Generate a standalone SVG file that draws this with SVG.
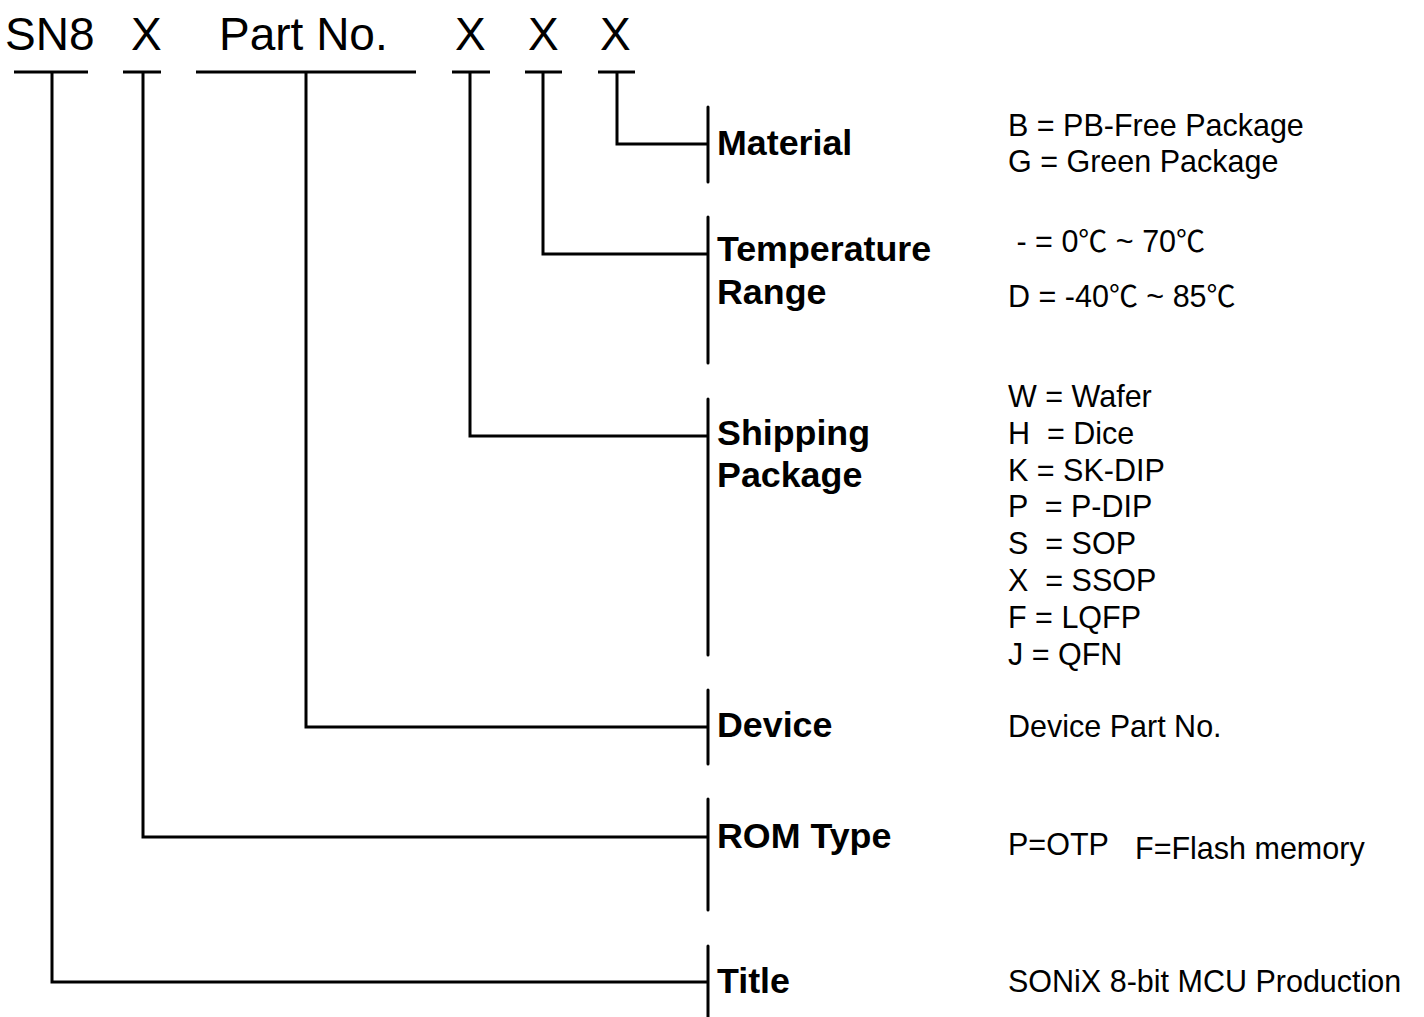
<svg xmlns="http://www.w3.org/2000/svg" width="1424" height="1017" viewBox="0 0 1424 1017">
<style>
  text { font-family: "Liberation Sans", Arial, "Noto Sans CJK SC", sans-serif; fill: #000; white-space: pre; }
  .top { font-size: 46px; }
  .lbl { font-size: 35.8px; font-weight: bold; }
  .val { font-size: 30.5px; }
  .deg { font-family: "Noto Sans CJK SC", sans-serif; font-size: 29px; }
  .ln { fill: none; stroke: #000; stroke-width: 3; stroke-linejoin: miter; }
  .bar { stroke: #000; stroke-width: 3; stroke-linecap: round; }
</style>
<rect width="1424" height="1017" fill="#fff"/>
<g id="code">
  <text class="top" x="5" y="50">SN8</text>
  <text class="top" x="131" y="50">X</text>
  <text class="top" x="219" y="50">Part No.</text>
  <text class="top" x="455" y="50">X</text>
  <text class="top" x="528" y="50">X</text>
  <text class="top" x="600" y="50">X</text>
  <line class="ln" x1="14" y1="72" x2="88" y2="72"/>
  <line class="ln" x1="123" y1="72" x2="161" y2="72"/>
  <line class="ln" x1="196" y1="72" x2="416" y2="72"/>
  <line class="ln" x1="452" y1="72" x2="490" y2="72"/>
  <line class="ln" x1="525" y1="72" x2="562" y2="72"/>
  <line class="ln" x1="598" y1="72" x2="635" y2="72"/>
</g>
<g id="connectors">
  <polyline class="ln" points="617,72 617,144 707,144"/>
  <polyline class="ln" points="543,72 543,254 707,254"/>
  <polyline class="ln" points="470,72 470,436 707,436"/>
  <polyline class="ln" points="306,72 306,727 707,727"/>
  <polyline class="ln" points="143,72 143,837 707,837"/>
  <polyline class="ln" points="52,72 52,982 707,982"/>
</g>
<g id="material">
  <line class="bar" x1="708" y1="107" x2="708" y2="182"/>
  <text class="lbl" x="717" y="155">Material</text>
  <text class="val" x="1008" y="136">B = PB-Free Package</text>
  <text class="val" x="1008" y="172">G = Green Package</text>
</g>
<g id="temperature">
  <line class="bar" x1="708" y1="217" x2="708" y2="363"/>
  <text class="lbl" x="717" y="261">Temperature</text>
  <text class="lbl" x="717" y="304">Range</text>
  <text class="val" x="1008" y="252"> - = 0<tspan class="deg">℃</tspan> ~ 70<tspan class="deg">℃</tspan></text>
  <text class="val" x="1008" y="307">D = -40<tspan class="deg">℃</tspan> ~ 85<tspan class="deg">℃</tspan></text>
</g>
<g id="shipping">
  <line class="bar" x1="708" y1="399" x2="708" y2="655"/>
  <text class="lbl" x="717" y="445">Shipping</text>
  <text class="lbl" x="717" y="487">Package</text>
  <text class="val" x="1008" y="407">W = Wafer</text>
  <text class="val" x="1008" y="444">H  = Dice</text>
  <text class="val" x="1008" y="481">K = SK-DIP</text>
  <text class="val" x="1008" y="517">P  = P-DIP</text>
  <text class="val" x="1008" y="554">S  = SOP</text>
  <text class="val" x="1008" y="591">X  = SSOP</text>
  <text class="val" x="1008" y="628">F = LQFP</text>
  <text class="val" x="1008" y="665">J = QFN</text>
</g>
<g id="device">
  <line class="bar" x1="708" y1="690" x2="708" y2="764"/>
  <text class="lbl" x="717" y="737">Device</text>
  <text class="val" x="1008" y="737">Device Part No.</text>
</g>
<g id="rom">
  <line class="bar" x1="708" y1="799" x2="708" y2="910"/>
  <text class="lbl" x="717" y="848">ROM Type</text>
  <text class="val" x="1008" y="855">P=OTP</text>
  <text class="val" x="1135" y="859">F=Flash memory</text>
</g>
<g id="title">
  <line class="bar" x1="708" y1="946" x2="708" y2="1017"/>
  <text class="lbl" x="717" y="993">Title</text>
  <text class="val" x="1008" y="992">SONiX 8-bit MCU Production</text>
</g>
</svg>
